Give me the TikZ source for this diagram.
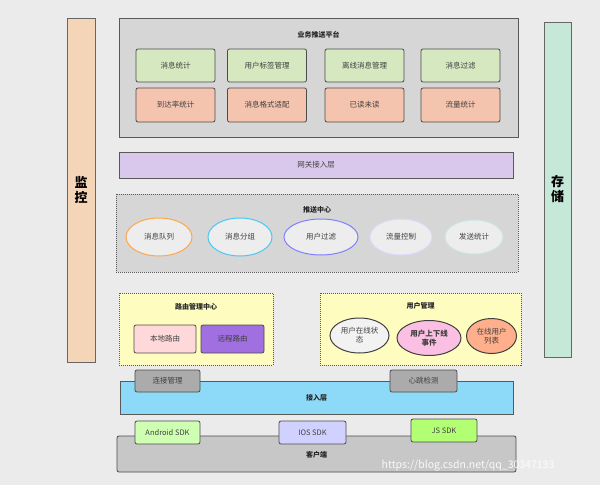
\documentclass[tikz,border=0pt]{standalone}
\usepackage{fontspec}
\setmainfont{Noto Sans CJK SC}
\usetikzlibrary{shapes.geometric}
\definecolor{purp}{HTML}{A070E0}
\definecolor{lav}{HTML}{D9C8EC}
\definecolor{mint}{HTML}{C5E8D8}
\definecolor{peach}{HTML}{F5D5B8}
\definecolor{grn}{HTML}{D5E8C0}
\definecolor{org}{HTML}{F5C4AE}
\begin{document}
\begin{tikzpicture}[x=1pt,y=-1pt,
 every node/.style={font=\fontsize{7.5}{9}\selectfont,text=black!75,align=center},
 bx/.style={draw=black!70,line width=0.8pt,rounded corners=2pt,inner sep=0pt},
 ttl/.style={font=\fontsize{7}{8}\selectfont\bfseries,text=black!85},
 grp/.style={draw=black!65,line width=0.8pt,dash pattern=on 1pt off 1pt,inner sep=0pt},
 el/.style={ellipse,line width=1pt,fill=black!7,inner sep=0pt}]
\useasboundingbox (0,0) rectangle (600,485);
\fill[black!8] (0,0) rectangle (600,485);
% side bars
\node[draw=black!60,line width=0.8pt,fill=peach,minimum width=28pt,minimum height=344pt] (mon) at (81,190) {};
\node[font=\fontsize{13}{15}\selectfont\bfseries,text=black] (montxt) at (81,190) {监\\控};
\node[draw=black!60,line width=0.8pt,fill=mint,minimum width=27pt,minimum height=335pt] (sto) at (557.5,189.5) {};
\node[font=\fontsize{13}{15}\selectfont\bfseries,text=black] (stotxt) at (557.5,189.5) {存\\储};
% business platform
\node[draw=black!65,line width=0.8pt,fill=black!16,minimum width=399pt,minimum height=119pt] (bp) at (318.5,77.5) {};
\node[ttl] (bpt) at (318.5,35) {业务推送平台};
\foreach \n/\x/\t in {a/175.5/消息统计,b/267/用户标签管理,c/364.5/离线消息管理,d/460.5/消息过滤}
  \node[bx,fill=grn,minimum width=79pt,minimum height=33pt] (g\n) at (\x,65.5) {\t};
\foreach \n/\x/\t in {a/175.5/到达率统计,b/267/消息格式适配,c/364.5/已读未读,d/460.5/流量统计}
  \node[bx,fill=org,minimum width=79pt,minimum height=34pt] (o\n) at (\x,105) {\t};
% gateway
\node[draw=black!65,line width=0.8pt,fill=lav,minimum width=394pt,minimum height=26pt] (gw) at (316,165) {网关接入层};
% push center
\node[grp,fill=black!16,minimum width=402pt,minimum height=78pt] (pc) at (317,233) {};
\node[ttl] (pct) at (317,210) {推送中心};
\node[el,draw=orange!70,minimum width=66pt,minimum height=38pt] (e1) at (159,237) {消息队列};
\node[el,draw=cyan!70,minimum width=64pt,minimum height=38pt] (e2) at (240,237) {消息分组};
\node[el,draw=blue!50,minimum width=74pt,minimum height=36pt] (e3) at (321,237) {用户过滤};
\node[el,draw=blue!15,minimum width=62pt,minimum height=36pt] (e4) at (401,237) {流量控制};
\node[el,draw=teal!20,minimum width=58pt,minimum height=34pt] (e5) at (474,237) {发送统计};
% routing
\node[grp,fill=yellow!25!white,minimum width=154pt,minimum height=72pt] (rt) at (196,329) {};
\node[ttl] (rtt) at (196,307) {路由管理中心};
\node[bx,fill=pink!60!white,minimum width=62pt,minimum height=28pt] (r1) at (165,339) {本地路由};
\node[bx,fill=purp,minimum width=63pt,minimum height=28pt] (r2) at (232.5,339) {远程路由};
% user mgmt
\node[grp,fill=yellow!25!white,minimum width=201pt,minimum height=72pt] (um) at (420.5,329) {};
\node[ttl] (umt) at (420.5,306) {用户管理};
\node[el,draw=black!75,fill=black!5,minimum width=59pt,minimum height=35pt] (u1) at (359.5,335.5) {用户在线状\\态};
\node[el,draw=black!75,fill=magenta!25!white,minimum width=64pt,minimum height=35pt,font=\fontsize{7.5}{9}\selectfont\bfseries] (u2) at (429,338) {用户上下线\\事件};
\node[el,draw=black!75,fill=orange!60!red!45!white,minimum width=50pt,minimum height=35pt] (u3) at (491.5,336) {在线用户\\列表};
% access layer
\node[draw=black!65,line width=0.8pt,fill=cyan!45!white,minimum width=393pt,minimum height=33pt] (ac) at (316.5,397.5) {};
\node[ttl] (act) at (316.5,398) {接入层};
\node[bx,fill=black!33,minimum width=65pt,minimum height=22pt] (t1) at (167.5,381) {连接管理};
\node[bx,fill=black!33,minimum width=67pt,minimum height=22pt] (t2) at (423.5,381) {心跳检测};
% client
\node[draw=black!70,line width=0.8pt,rounded corners=2pt,fill=black!22,minimum width=399pt,minimum height=36pt] (cl) at (316.5,454) {};
\node[ttl] (clt) at (316.5,455) {客户端};
\node[bx,fill=lime!50!green!30!white,minimum width=65pt,minimum height=23pt] (s1) at (167.5,432.5) {Android SDK};
\node[bx,fill=blue!18!white,minimum width=67pt,minimum height=23pt] (s2) at (312.5,432.5) {IOS SDK};
\node[bx,fill=lime!60!green!55!white,minimum width=66pt,minimum height=23pt] (s3) at (444,430.5) {JS SDK};
\node[font=\fontsize{10.5}{12}\selectfont,text=white,opacity=0.9] (wm) at (468,466) {https://blog.csdn.net/qq\_30347133};
\end{tikzpicture}
\end{document}
